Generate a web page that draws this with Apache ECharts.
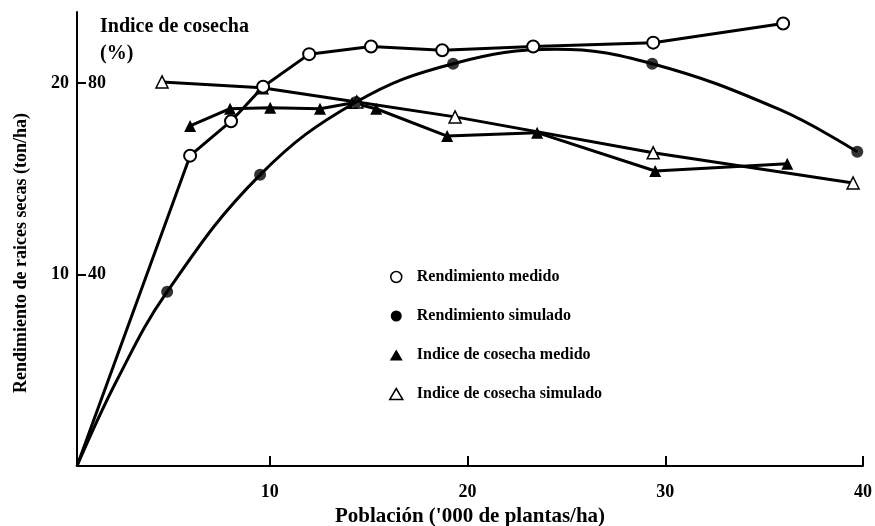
<!DOCTYPE html>
<html>
<head>
<meta charset="utf-8">
<script src="https://cdn.jsdelivr.net/npm/echarts@6/dist/echarts.min.js"></script>
<style>html,body{margin:0;padding:0;background:#fff}#c{width:875px;height:526px}</style>
</head>
<body>
<div id="c"></div>
<script>
// Data (population in '000 plants/ha)
const yieldMeasured = [[0.25,0],[5.97,16.2],[8.04,18.0],[9.66,19.8],[11.99,21.5],[15.12,21.9],[18.72,21.7],[23.32,21.9],[29.39,22.1],[35.96,23.1]];
// simulated yield: marked points, and the drawn curve
const yieldSimulated = [[4.81,9.1],[9.51,15.2],[14.37,19.0],[19.27,21.0],[29.34,21.0],[39.71,16.4]];
const yieldSimulatedCurve = [[0.25,0],[2.28,4.5],[4.81,9.1],[9.51,15.2],[14.37,19.0],[19.27,21.0],[24.5,21.75],[29.34,21.0],[35.8,18.6],[39.71,16.4]];
const hiMeasured = [[5.97,71.0],[7.99,74.6],[10.02,74.8],[12.54,74.6],[14.16,75.8],[15.38,74.6],[18.97,68.9],[23.52,69.6],[29.49,61.6],[36.17,63.1]];
const hiSimulated = [[4.55,80.2],[9.6,79.0],[14.4,76.0],[19.37,72.9],[29.39,65.4],[39.5,59.1]];
const xTicks = [10,20,30,40];
const yTicks = [10,20];
const hiTicks = [40,80];
const seriesNames = ['Rendimiento medido','Rendimiento simulado','Indice de cosecha medido','Indice de cosecha simulado'];

const FONT = 'Liberation Serif';
const chart = echarts.init(document.getElementById('c'));
const hideFirst = (v,p)=> p.dataIndex===0 ? 0 : 12;
chart.setOption({
  animation:false,
  textStyle:{fontFamily:FONT,color:'#000'},
  title:{text:'Indice de cosecha\n(%)',left:95,top:8,textStyle:{fontFamily:FONT,fontSize:20,fontWeight:'bold',lineHeight:27,color:'#000'}},
  grid:{left:77,right:12,top:12,bottom:60,outerBoundsMode:'none',containLabel:false},
  graphic:[{type:'text',x:21,y:253,rotation:Math.PI/2,
    style:{text:'Rendimiento de raices secas (ton/ha)',fontFamily:FONT,fontSize:18,fontWeight:'bold',fill:'#000',align:'center',verticalAlign:'middle'}}],
  legend:{
    orient:'vertical',left:384,top:264,itemGap:23,itemWidth:13,itemHeight:11,
    textStyle:{fontFamily:FONT,fontSize:16,fontWeight:'bold',color:'#000',padding:[0,0,0,9]},
    data:[
      {name:seriesNames[0],icon:'circle',itemStyle:{color:'#fff',borderColor:'#000',borderWidth:1.5}},
      {name:seriesNames[1],icon:'circle',itemStyle:{color:'#000',borderWidth:0}},
      {name:seriesNames[2],icon:'triangle',itemStyle:{color:'#000',borderWidth:0}},
      {name:seriesNames[3],icon:'triangle',itemStyle:{color:'#fff',borderColor:'#000',borderWidth:1.5}}
    ]
  },
  xAxis:{
    type:'value',min:0.25,max:40,
    name:"Población ('000 de plantas/ha)",nameLocation:'middle',nameGap:34,
    nameTextStyle:{fontFamily:FONT,fontSize:21,fontWeight:'bold',color:'#000'},
    axisLine:{lineStyle:{color:'#000',width:2}},
    axisTick:{inside:true,length:10,lineStyle:{color:'#000',width:2},customValues:xTicks},
    axisLabel:{customValues:xTicks,margin:17,fontFamily:FONT,fontSize:18,fontWeight:'bold',color:'#000'},
    splitLine:{show:false}
  },
  yAxis:[
    {type:'value',min:0,max:23.7,position:'left',
     axisLine:{show:true,lineStyle:{color:'#000',width:2}},
     axisTick:{show:false},
     axisLabel:{customValues:yTicks,margin:8,fontFamily:FONT,fontSize:18,fontWeight:'bold',color:'#000'},
     splitLine:{show:false}},
    {type:'value',min:0,max:94.8,position:'left',
     axisLine:{show:false},
     axisTick:{show:true,inside:true,length:9,lineStyle:{color:'#000',width:2},customValues:hiTicks},
     axisLabel:{inside:true,customValues:hiTicks,margin:11,fontFamily:FONT,fontSize:18,fontWeight:'bold',color:'#000'},
     splitLine:{show:false}}
  ],
  series:[
    {name:seriesNames[0],type:'line',data:yieldMeasured,symbol:'circle',symbolSize:hideFirst,
     lineStyle:{color:'#000',width:3},itemStyle:{color:'#fff',borderColor:'#000',borderWidth:2},z:5},
    {name:seriesNames[1],type:'line',data:yieldSimulatedCurve,smooth:0.4,showSymbol:false,symbol:'none',
     lineStyle:{color:'#000',width:3},itemStyle:{color:'#000'},z:4},
    {name:seriesNames[1],type:'scatter',data:yieldSimulated,symbol:'circle',symbolSize:12,
     itemStyle:{color:'#000',borderWidth:0},z:4},
    {name:seriesNames[2],type:'line',yAxisIndex:1,data:hiMeasured,symbol:'triangle',symbolSize:12,
     lineStyle:{color:'#000',width:3},itemStyle:{color:'#000',borderWidth:0},z:3},
    {name:seriesNames[3],type:'line',yAxisIndex:1,data:hiSimulated,symbol:'triangle',symbolSize:12,
     lineStyle:{color:'#000',width:3},itemStyle:{color:'#fff',borderColor:'#000',borderWidth:1.5},z:3}
  ]
});
</script>
</body>
</html>
